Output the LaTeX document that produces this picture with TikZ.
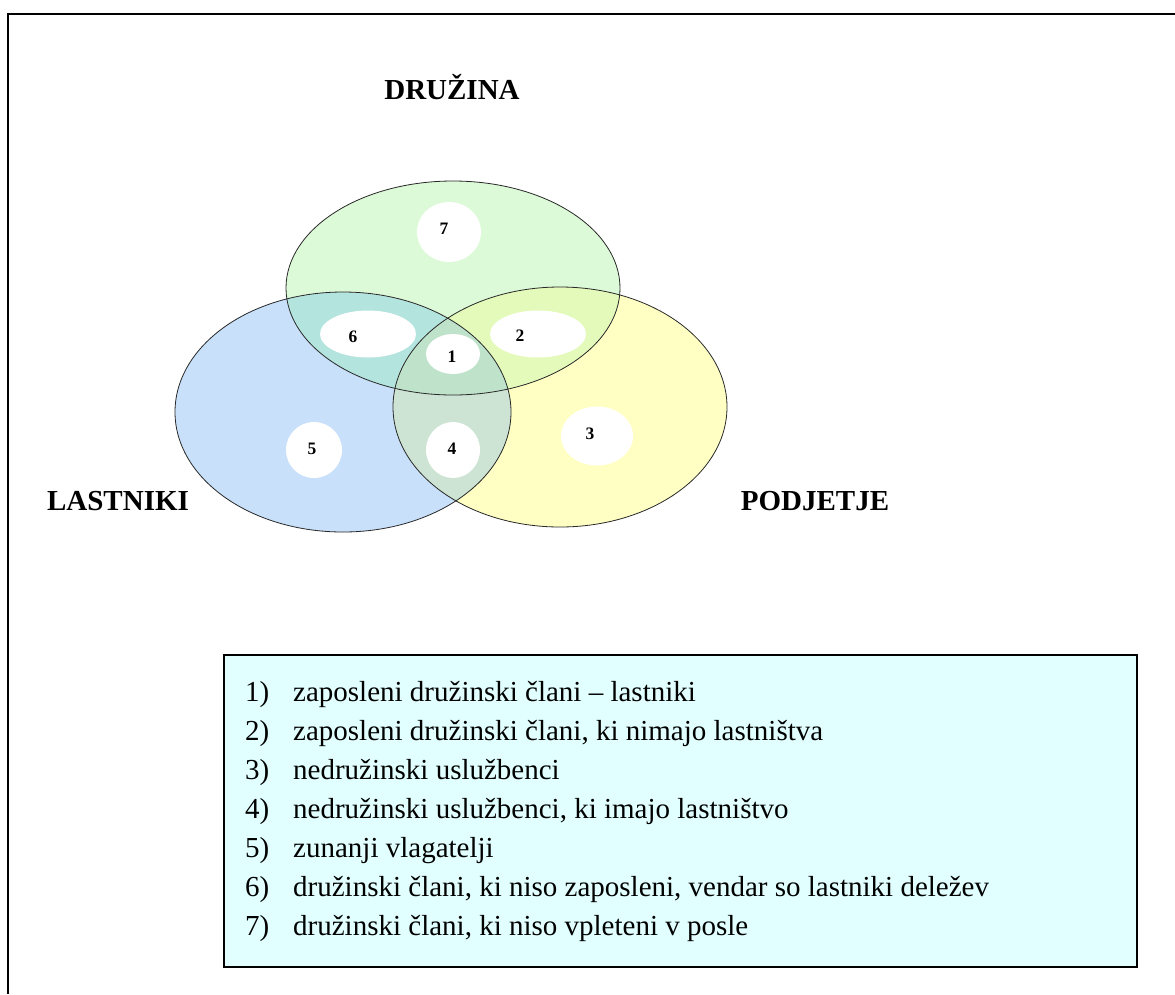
\documentclass[tikz,border=0pt]{standalone}
\usepackage{fontspec}
\setmainfont{Liberation Serif}
\usetikzlibrary{shapes.geometric}
\definecolor{blueC}{RGB}{200,224,250}
\definecolor{greenC}{RGB}{221,250,216}
\definecolor{yellowC}{RGB}{255,255,196}
\definecolor{bgC}{RGB}{180,228,222}
\definecolor{gyC}{RGB}{228,250,186}
\definecolor{byC}{RGB}{205,228,212}
\definecolor{bgyC}{RGB}{190,226,202}
\definecolor{legendC}{RGB}{226,255,255}
\definecolor{rimC}{RGB}{40,40,40}
\begin{document}
\begin{tikzpicture}[x=1pt,y=-1pt,
  setring/.style={ellipse, draw=rimC, line width=0.8pt, inner sep=0pt},
  hole/.style={ellipse, fill=white, inner sep=0pt},
  numlab/.style={font=\fontsize{17.5}{20}\selectfont\bfseries, inner sep=0pt},
  setlab/.style={font=\fontsize{29}{33}\selectfont\bfseries, inner sep=0pt},
  legnum/.style={font=\fontsize{29}{33}\selectfont, anchor=base west, inner sep=0pt},
  legtxt/.style={font=\fontsize{29}{33}\selectfont, anchor=base west, inner sep=0pt}]
\useasboundingbox (0,0) rectangle (1175,994);
% outer frame
\draw[line width=2pt] (8,994) -- (8,13.5) -- (1175,13.5);
% fills
\def\gpath{(453,288) ellipse [x radius=167pt, y radius=107pt]}
\def\bpath{(343,412) ellipse [x radius=168pt, y radius=120pt]}
\def\ypath{(560,407) ellipse [x radius=167pt, y radius=120pt]}
\fill[blueC] \bpath;
\fill[yellowC] \ypath;
\fill[greenC] \gpath;
\begin{scope}\clip \bpath; \fill[bgC] \gpath; \end{scope}
\begin{scope}\clip \gpath; \fill[gyC] \ypath; \end{scope}
\begin{scope}\clip \bpath; \fill[byC] \ypath; \end{scope}
\begin{scope}\clip \bpath; \clip \gpath; \fill[bgyC] \ypath; \end{scope}
% outlines
\node[setring, minimum width=334pt, minimum height=214pt] (druzina) at (453,288) {};
\node[setring, minimum width=336pt, minimum height=240pt] (lastniki) at (343,412) {};
\node[setring, minimum width=334pt, minimum height=240pt] (podjetje) at (560,407) {};
% white holes
\node[hole, minimum width=64pt, minimum height=60pt] (h7) at (449,232) {};
\node[hole, minimum width=96pt, minimum height=47pt] (h6) at (368,334) {};
\node[hole, minimum width=96pt, minimum height=47pt] (h2) at (538,334) {};
\node[hole, minimum width=54pt, minimum height=40pt] (h1) at (453,354) {};
\node[hole, minimum width=54pt, minimum height=56pt] (h4) at (453,450) {};
\node[hole, minimum width=56pt, minimum height=56pt] (h5) at (314,450) {};
\node[hole, minimum width=72pt, minimum height=59pt] (h3) at (597,436) {};
% numbers
\node[numlab] (n7) at (444,229) {7};
\node[numlab] (n6) at (353,337) {6};
\node[numlab] (n2) at (520,336) {2};
\node[numlab] (n1) at (452,357) {1};
\node[numlab] (n5) at (312,449) {5};
\node[numlab] (n4) at (452,449) {4};
\node[numlab] (n3) at (590,434) {3};
% set labels
\node[setlab] (tD) at (452,87) {DRUŽINA};
\node[setlab] (tL) at (118,501) {LASTNIKI};
\node[setlab] (tP) at (815,501) {PODJETJE};
% legend
\node[draw=black, line width=1.5pt, fill=legendC, minimum width=913pt, minimum height=312pt, inner sep=0pt, anchor=north west] (legend) at (223,654) {};
\foreach \k/\t in {1/{zaposleni družinski člani – lastniki},
                   2/{zaposleni družinski člani, ki nimajo lastništva},
                   3/{nedružinski uslužbenci},
                   4/{nedružinski uslužbenci, ki imajo lastništvo},
                   5/{zunanji vlagatelji},
                   6/{družinski člani, ki niso zaposleni, vendar so lastniki deležev},
                   7/{družinski člani, ki niso vpleteni v posle}} {
  \node[legnum] (ln\k) at (245,{662+39*\k}) {\k)};
  \node[legtxt] (lt\k) at (293,{662+39*\k}) {\t};
}
\end{tikzpicture}
\end{document}
